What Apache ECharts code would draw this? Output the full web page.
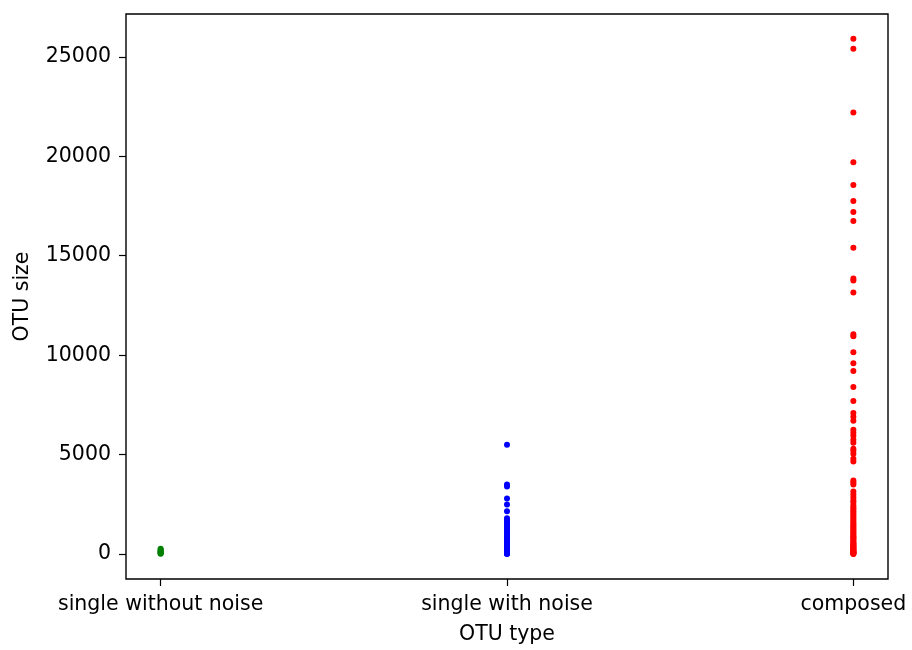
<!DOCTYPE html>
<html>
<head>
<meta charset="utf-8">
<script src="https://cdn.jsdelivr.net/npm/echarts@6/dist/echarts.min.js"></script>
<style>html,body{margin:0;padding:0;background:#fff}#c{width:912px;height:650px}</style>
</head>
<body>
<div id="c"></div>
<script>
const categories = ["single without noise", "single with noise", "composed"];
const yTicks = [0, 5000, 10000, 15000, 20000, 25000];
const greenValues = [270, 220, 180, 140, 100, 70, 40, 20];
const blueValues = [5500, 3500, 3400, 2800, 2500, 2150, 1800, 1700, 1600, 1500, 1400, 1300, 1200, 1100, 1000, 900, 820, 750, 680, 600, 540, 480, 420, 360, 300, 250, 200, 160, 120, 90, 60, 40, 20, 5];
const redValues = [25900, 25400, 22200, 19700, 18550, 17750, 17200, 16750, 15400, 13850, 13750, 13150, 11050, 10950, 10150, 9600, 9200, 8400, 7700, 7100, 6900, 6700, 6250, 6100, 5950, 5750, 5600, 5300, 5200, 5050, 4800, 4650, 3700, 3600, 3500, 3150, 3000, 2850, 2700, 2600, 2450, 2350, 2250, 2150, 2050, 1950, 1850, 1750, 1650, 1550, 1480, 1400, 1320, 1250, 1180, 1100, 1030, 960, 900, 840, 780, 720, 660, 600, 550, 500, 450, 400, 360, 320, 280, 240, 200, 170, 140, 110, 80, 60, 40, 20, 10];

const groups = [
  { idx: 0, values: greenValues, color: "#008000" },
  { idx: 1, values: blueValues, color: "#0000ff" },
  { idx: 2, values: redValues, color: "#ff0000" }
];

const font = "DejaVu Sans";
const fs = 20.5;
const chart = echarts.init(document.getElementById("c"), null, { renderer: "canvas" });
chart.setOption({
  animation: false,
  backgroundColor: "#ffffff",
  grid: { left: 126, right: 24, top: 14, bottom: 70, show: true, borderColor: "#000", borderWidth: 1.4, backgroundColor: "transparent" },
  xAxis: {
    type: "value",
    min: -0.1, max: 2.1,
    name: "OTU type", nameLocation: "middle", nameGap: 45,
    nameTextStyle: { fontFamily: font, fontSize: fs, color: "#000" },
    axisLine: { show: false, onZero: false },
    splitLine: { show: false },
    axisTick: { show: true, length: 7, lineStyle: { color: "#000", width: 1.2 }, customValues: [0, 1, 2] },
    axisLabel: { fontFamily: font, fontSize: fs, color: "#000", margin: 15, customValues: [0, 1, 2],
      formatter: v => categories[Math.round(v)] }
  },
  yAxis: {
    type: "value",
    min: -1250, max: 27150,
    name: "OTU size", nameLocation: "middle", nameGap: 93,
    nameTextStyle: { fontFamily: font, fontSize: fs, color: "#000" },
    axisLine: { show: false, onZero: false },
    splitLine: { show: false },
    axisTick: { show: true, length: 7, lineStyle: { color: "#000", width: 1.2 }, customValues: yTicks },
    axisLabel: { fontFamily: font, fontSize: fs, color: "#000", margin: 15, customValues: yTicks,
      formatter: v => String(v) }
  },
  series: groups.map(g => ({
    type: "scatter",
    symbol: "circle",
    symbolSize: 6,
    itemStyle: { color: g.color, opacity: 1 },
    data: g.values.map(v => [g.idx, v])
  }))
});
</script>
</body>
</html>
